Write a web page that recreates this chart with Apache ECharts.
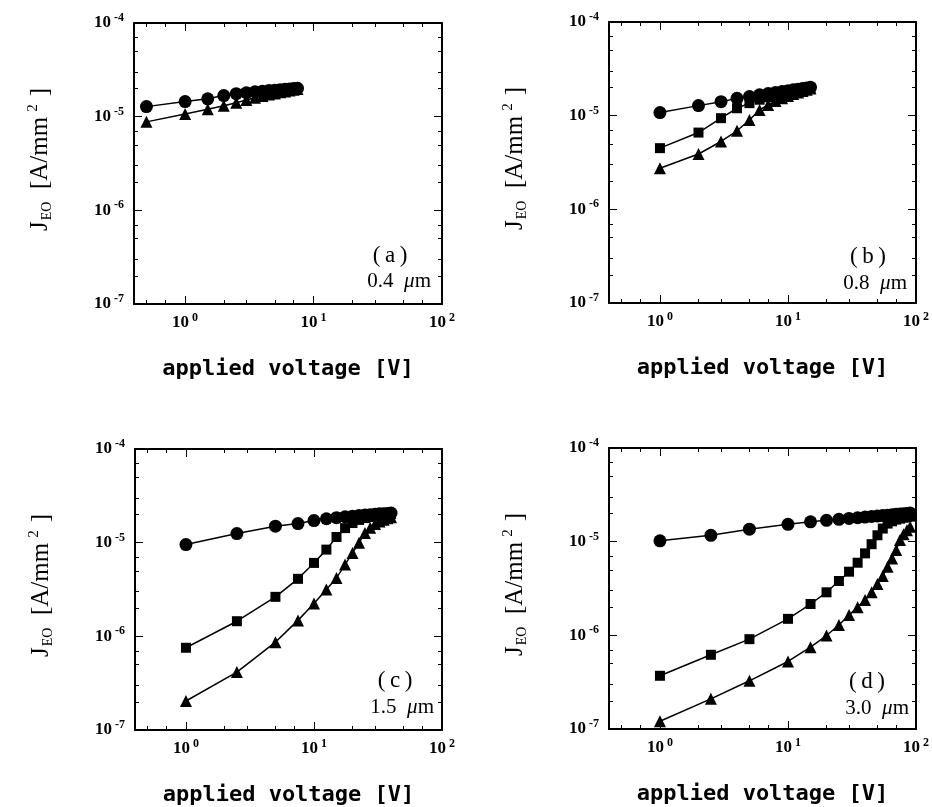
<!DOCTYPE html>
<html><head><meta charset="utf-8">
<script src="https://cdn.jsdelivr.net/npm/echarts@6/dist/echarts.min.js"></script>
<style>html,body{margin:0;padding:0;background:#fff}#c{width:932px;height:807px}</style>
</head><body><div id="c"></div>
<script>
// ---------- data (J values in A/mm^2) ----------
// (a) 0.4 um
const aVolt   = [0.5,1,1.5,2,2.5,3,3.5,4,4.5,5,5.5,6,6.5,7,7.5];
const aCircle = [1.28e-5,1.45e-5,1.55e-5,1.68e-5,1.76e-5,1.80e-5,1.84e-5,1.87e-5,1.90e-5,1.92e-5,1.94e-5,1.96e-5,1.98e-5,2.00e-5,2.01e-5];
const aTri    = [0.88e-5,1.07e-5,1.20e-5,1.31e-5,1.41e-5,1.51e-5,1.59e-5,1.66e-5,1.72e-5,1.77e-5,1.82e-5,1.86e-5,1.90e-5,1.94e-5,1.97e-5];
// (b) 0.8 um
const bVolt   = [1,2,3,4,5,6,7,8,9,10,11,12,13,14,15];
const bCircle = [1.08e-5,1.28e-5,1.41e-5,1.53e-5,1.60e-5,1.67e-5,1.72e-5,1.77e-5,1.81e-5,1.85e-5,1.89e-5,1.92e-5,1.95e-5,1.98e-5,2.01e-5];
const bSquare = [0.45e-5,0.66e-5,0.94e-5,1.20e-5,1.36e-5,1.48e-5,1.57e-5,1.65e-5,1.71e-5,1.77e-5,1.82e-5,1.86e-5,1.90e-5,1.94e-5,1.98e-5];
const bTri    = [0.275e-5,0.39e-5,0.53e-5,0.69e-5,0.90e-5,1.15e-5,1.30e-5,1.43e-5,1.53e-5,1.62e-5,1.70e-5,1.77e-5,1.83e-5,1.89e-5,1.95e-5];
// (c) 1.5 um
const cVolt   = [1,2.5,5,7.5,10,12.5,15,17.5,20,22.5,25,27.5,30,32.5,35,37.5,40];
const cCircle = [0.955e-5,1.25e-5,1.50e-5,1.60e-5,1.72e-5,1.80e-5,1.85e-5,1.89e-5,1.92e-5,1.95e-5,1.97e-5,1.99e-5,2.01e-5,2.03e-5,2.04e-5,2.05e-5,2.07e-5];
const cSquare = [7.55e-7,1.45e-6,2.64e-6,4.11e-6,6.08e-6,8.43e-6,1.15e-5,1.43e-5,1.62e-5,1.75e-5,1.83e-5,1.88e-5,1.92e-5,1.95e-5,1.98e-5,2.00e-5,2.02e-5];
const cTri    = [2.04e-7,4.15e-7,8.67e-7,1.48e-6,2.24e-6,3.16e-6,4.20e-6,5.83e-6,7.78e-6,9.95e-6,1.27e-5,1.44e-5,1.58e-5,1.68e-5,1.76e-5,1.82e-5,1.87e-5];
// (d) 3.0 um
const dVolt   = [1,2.5,5,10,15,20,25,30,35,40,45,50,55,60,65,70,75,80,85,90];
const dCircle = [1.02e-5,1.17e-5,1.36e-5,1.53e-5,1.63e-5,1.69e-5,1.73e-5,1.77e-5,1.80e-5,1.83e-5,1.86e-5,1.88e-5,1.90e-5,1.92e-5,1.94e-5,1.96e-5,1.97e-5,1.99e-5,2.00e-5,2.02e-5];
const dSquare = [3.7e-7,6.2e-7,9.1e-7,1.50e-6,2.16e-6,2.88e-6,3.80e-6,4.78e-6,5.96e-6,7.50e-6,9.40e-6,1.17e-5,1.38e-5,1.56e-5,1.65e-5,1.72e-5,1.76e-5,1.80e-5,1.83e-5,1.85e-5];
const dTri    = [1.21e-7,2.10e-7,3.27e-7,5.26e-7,7.48e-7,9.95e-7,1.29e-6,1.65e-6,2.00e-6,2.39e-6,2.88e-6,3.53e-6,4.30e-6,5.40e-6,6.62e-6,8.13e-6,1.04e-5,1.20e-5,1.32e-5,1.44e-5];

const panelTags  = ['(a)','(b)','(c)','(d)'];
const panelSizes = ['0.4','0.8','1.5','3.0'];

// tick values
const xMajor = [1,10,100];
const xMinor = [0.5,0.7,2,3,5,7,20,30,50,70];
const yMajor = [1e-7,1e-6,1e-5,1e-4];
const yMinor = [2e-7,3e-7,5e-7,7e-7,2e-6,3e-6,5e-6,7e-6,2e-5,3e-5,5e-5,7e-5];

// ---------- layout ----------
const grids = [
  {left:134, top:23,  width:308, height:281},
  {left:609, top:22,  width:307, height:281},
  {left:135, top:449, width:307, height:282},
  {left:609, top:448, width:308, height:281}
];
const tagPos = [[390,256],[868,257],[395,681],[867,682]];
const sizePos = [[431,281],[907,283],[434,707],[909,708]];

const panelData = [
  {v:aVolt, c:aCircle, s:null,    t:aTri},
  {v:bVolt, c:bCircle, s:bSquare, t:bTri},
  {v:cVolt, c:cCircle, s:cSquare, t:cTri},
  {v:dVolt, c:dCircle, s:dSquare, t:dTri}
];

function powLabel(v){
  const e = Math.round(Math.log10(v));
  return '{b|10}{s|' + e + '}';
}
const labelRich = {
  b:{fontFamily:'Liberation Serif', fontWeight:'bold', fontSize:17, color:'#000', lineHeight:22, verticalAlign:'middle'},
  s:{fontFamily:'Liberation Serif', fontWeight:'bold', fontSize:12, color:'#000', lineHeight:12, verticalAlign:'top', padding:[0,0,0,3]}
};

const xAxes=[], yAxes=[], series=[], graphics=[];
grids.forEach((g,gi)=>{
  ['bottom','top'].forEach(pos=>{
    [false,true].forEach(minor=>{
      xAxes.push({
        type:'log', logBase:10, gridIndex:gi, position:pos, min:0.4, max:100,
        axisLine:{show:!minor, onZero:false, lineStyle:{color:'#000', width:2}},
        axisTick:{show:true, inside:true, length:minor?4:8, customValues:minor?xMinor:xMajor, lineStyle:{color:'#000', width:1}},
        axisLabel:{show:(pos==='bottom'&&!minor), customValues:xMajor, formatter:powLabel, margin:8, rich:labelRich},
        splitLine:{show:false}, minorTick:{show:false},
        name:(pos==='bottom'&&!minor)?'applied voltage [V]':'',
        nameLocation:'middle', nameGap:54,
        nameTextStyle:{fontFamily:'DejaVu Sans Mono', fontWeight:'bold', fontSize:22, color:'#000'}
      });
    });
  });
  ['left','right'].forEach(pos=>{
    [false,true].forEach(minor=>{
      yAxes.push({
        type:'log', logBase:10, gridIndex:gi, position:pos, min:1e-7, max:1e-4,
        axisLine:{show:!minor, onZero:false, lineStyle:{color:'#000', width:2}},
        axisTick:{show:true, inside:true, length:minor?4:8, customValues:minor?yMinor:yMajor, lineStyle:{color:'#000', width:1}},
        axisLabel:{show:(pos==='left'&&!minor), customValues:yMajor, formatter:powLabel, margin:10, rich:labelRich},
        splitLine:{show:false}, minorTick:{show:false},
        name:(pos==='left'&&!minor)?'{j|J}{sub|EO}{n|\u2002[A/mm}{sup|2}{n|\u2009]}':'',
        nameLocation:'middle', nameRotate:90, nameGap:80,
        nameTextStyle:{color:'#000', padding:[0,0,0,8], rich:{
          j:{fontFamily:'Liberation Serif', fontSize:25, lineHeight:28, verticalAlign:'middle', color:'#000'},
          n:{fontFamily:'Liberation Serif', fontSize:25, lineHeight:28, verticalAlign:'middle', color:'#000'},
          sub:{fontFamily:'Liberation Serif', fontSize:14, lineHeight:13, verticalAlign:'bottom', color:'#000', padding:[0,0,0,1]},
          sup:{fontFamily:'Liberation Serif', fontSize:15, lineHeight:12, verticalAlign:'top', color:'#000', padding:[0,3,0,5]}
        }}
      });
    });
  });
  const pd = panelData[gi];
  const base = {type:'line', xAxisIndex:gi*4, yAxisIndex:gi*4, animation:false, silent:true,
    lineStyle:{color:'#000', width:1.5}, itemStyle:{color:'#000'}, showAllSymbol:true};
  series.push(Object.assign({}, base, {name:'tri'+gi, symbol:'triangle', symbolSize:12, z:2,
    data:pd.v.map((v,i)=>[v,pd.t[i]])}));
  if (pd.s) series.push(Object.assign({}, base, {name:'sq'+gi, symbol:'rect', symbolSize:10, z:3,
    data:pd.v.map((v,i)=>[v,pd.s[i]])}));
  series.push(Object.assign({}, base, {name:'circ'+gi, symbol:'circle', symbolSize:13, z:4,
    data:pd.v.map((v,i)=>[v,pd.c[i]])}));

  graphics.push({type:'text', x:tagPos[gi][0], y:tagPos[gi][1], z:10,
    style:{text:'(\u2009'+panelTags[gi].slice(1,2)+'\u2009)', font:'23px "Liberation Serif"', fill:'#000', align:'center', verticalAlign:'middle'}});
  graphics.push({type:'text', x:sizePos[gi][0], y:sizePos[gi][1], z:10,
    style:{text:'{n|'+panelSizes[gi]+'  }{mu|\u03bc}{n|m}', align:'right', verticalAlign:'middle',
      rich:{n:{font:'21px "Liberation Serif"', fill:'#000'}, mu:{font:'italic 21px "Liberation Serif"', fill:'#000'}}}});
});

const chart = echarts.init(document.getElementById('c'), null, {renderer:'canvas'});
chart.setOption({
  animation:false,
  backgroundColor:'#fff',
  grid: grids.map(g=>Object.assign({containLabel:false, show:false}, g)),
  xAxis:xAxes, yAxis:yAxes, series:series, graphic:graphics
});
</script></body></html>
